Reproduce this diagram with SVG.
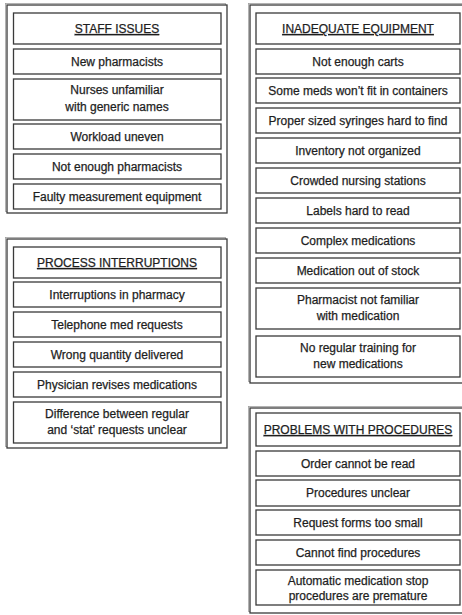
<svg xmlns="http://www.w3.org/2000/svg" width="462" height="615" viewBox="0 0 462 615">
<style>
.bg{fill:#fff}
.outer{fill:#fff;stroke:#3a3a3a;stroke-width:1.3}
.box{fill:#fff;stroke:#3a3a3a;stroke-width:1.3}
.sh{fill:none;stroke:#a0a0a0;stroke-width:0.8}
text{font-family:"Liberation Sans",Arial,sans-serif;font-size:12px;fill:#1e1e1e;stroke:#1e1e1e;stroke-width:0.25;text-anchor:middle}
.hd{text-decoration:underline}
</style>
<rect class="bg" x="0" y="0" width="462" height="615"/>

<g id="staff-issues">
<rect class="sh" x="5.5" y="3.5" width="220" height="208"/>
<rect class="outer" x="7" y="5" width="220" height="208"/>
<g id="staff-title"><rect class="box" x="13.5" y="13" width="207.5" height="31"/><text class="hd" x="117" y="33">STAFF ISSUES</text></g>
<g id="staff-1"><rect class="box" x="13.5" y="49" width="207.5" height="25"/><text x="117" y="66">New pharmacists</text></g>
<g id="staff-2"><rect class="box" x="13.5" y="79" width="207.5" height="41"/><text x="117" y="94">Nurses unfamiliar</text><text x="117" y="111">with generic names</text></g>
<g id="staff-3"><rect class="box" x="13.5" y="124" width="207.5" height="25"/><text x="117" y="141">Workload uneven</text></g>
<g id="staff-4"><rect class="box" x="13.5" y="154" width="207.5" height="25"/><text x="117" y="171">Not enough pharmacists</text></g>
<g id="staff-5"><rect class="box" x="13.5" y="184" width="207.5" height="25"/><text x="117" y="201">Faulty measurement equipment</text></g>
</g>

<g id="process-interruptions">
<rect class="sh" x="5.5" y="237.5" width="220" height="209"/>
<rect class="outer" x="7" y="239" width="220" height="209"/>
<g id="proc-title"><rect class="box" x="13.5" y="247" width="207.5" height="31"/><text class="hd" x="117" y="267">PROCESS INTERRUPTIONS</text></g>
<g id="proc-1"><rect class="box" x="13.5" y="282" width="207.5" height="25"/><text x="117" y="299">Interruptions in pharmacy</text></g>
<g id="proc-2"><rect class="box" x="13.5" y="312" width="207.5" height="25"/><text x="117" y="329">Telephone med requests</text></g>
<g id="proc-3"><rect class="box" x="13.5" y="342" width="207.5" height="25"/><text x="117" y="359">Wrong quantity delivered</text></g>
<g id="proc-4"><rect class="box" x="13.5" y="372" width="207.5" height="25"/><text x="117" y="389">Physician revises medications</text></g>
<g id="proc-5"><rect class="box" x="13.5" y="402" width="207.5" height="41"/><text x="117" y="418">Difference between regular</text><text x="117" y="434">and ‘stat’ requests unclear</text></g>
</g>

<g id="inadequate-equipment">
<rect class="sh" x="248.5" y="3.5" width="216" height="378"/>
<rect class="outer" x="250" y="5" width="216" height="378"/>
<g id="eq-title"><rect class="box" x="256" y="13" width="204" height="31"/><text class="hd" x="358" y="33">INADEQUATE EQUIPMENT</text></g>
<g id="eq-1"><rect class="box" x="256" y="49" width="204" height="25"/><text x="358" y="66">Not enough carts</text></g>
<g id="eq-2"><rect class="box" x="256" y="78" width="204" height="25"/><text x="358" y="95">Some meds won’t fit in containers</text></g>
<g id="eq-3"><rect class="box" x="256" y="108" width="204" height="25"/><text x="358" y="125">Proper sized syringes hard to find</text></g>
<g id="eq-4"><rect class="box" x="256" y="138" width="204" height="25"/><text x="358" y="155">Inventory not organized</text></g>
<g id="eq-5"><rect class="box" x="256" y="168" width="204" height="25"/><text x="358" y="185">Crowded nursing stations</text></g>
<g id="eq-6"><rect class="box" x="256" y="198" width="204" height="25"/><text x="358" y="215">Labels hard to read</text></g>
<g id="eq-7"><rect class="box" x="256" y="228" width="204" height="25"/><text x="358" y="245">Complex medications</text></g>
<g id="eq-8"><rect class="box" x="256" y="258" width="204" height="25"/><text x="358" y="275">Medication out of stock</text></g>
<g id="eq-9"><rect class="box" x="256" y="288" width="204" height="41"/><text x="358" y="304">Pharmacist not familiar</text><text x="358" y="320">with medication</text></g>
<g id="eq-10"><rect class="box" x="256" y="336" width="204" height="41"/><text x="358" y="352">No regular training for</text><text x="358" y="368">new medications</text></g>
</g>

<g id="problems-with-procedures">
<rect class="sh" x="248.5" y="406.5" width="216" height="205"/>
<rect class="outer" x="250" y="408" width="216" height="205"/>
<g id="pp-title"><rect class="box" x="256" y="413" width="204" height="33"/><text class="hd" x="358" y="434">PROBLEMS WITH PROCEDURES</text></g>
<g id="pp-1"><rect class="box" x="256" y="451" width="204" height="25"/><text x="358" y="468">Order cannot be read</text></g>
<g id="pp-2"><rect class="box" x="256" y="480" width="204" height="26"/><text x="358" y="497">Procedures unclear</text></g>
<g id="pp-3"><rect class="box" x="256" y="510" width="204" height="25"/><text x="358" y="527">Request forms too small</text></g>
<g id="pp-4"><rect class="box" x="256" y="540" width="204" height="25"/><text x="358" y="557">Cannot find procedures</text></g>
<g id="pp-5"><rect class="box" x="256" y="570" width="204" height="35"/><text x="358" y="585">Automatic medication stop</text><text x="358" y="600">procedures are premature</text></g>
</g>
</svg>
